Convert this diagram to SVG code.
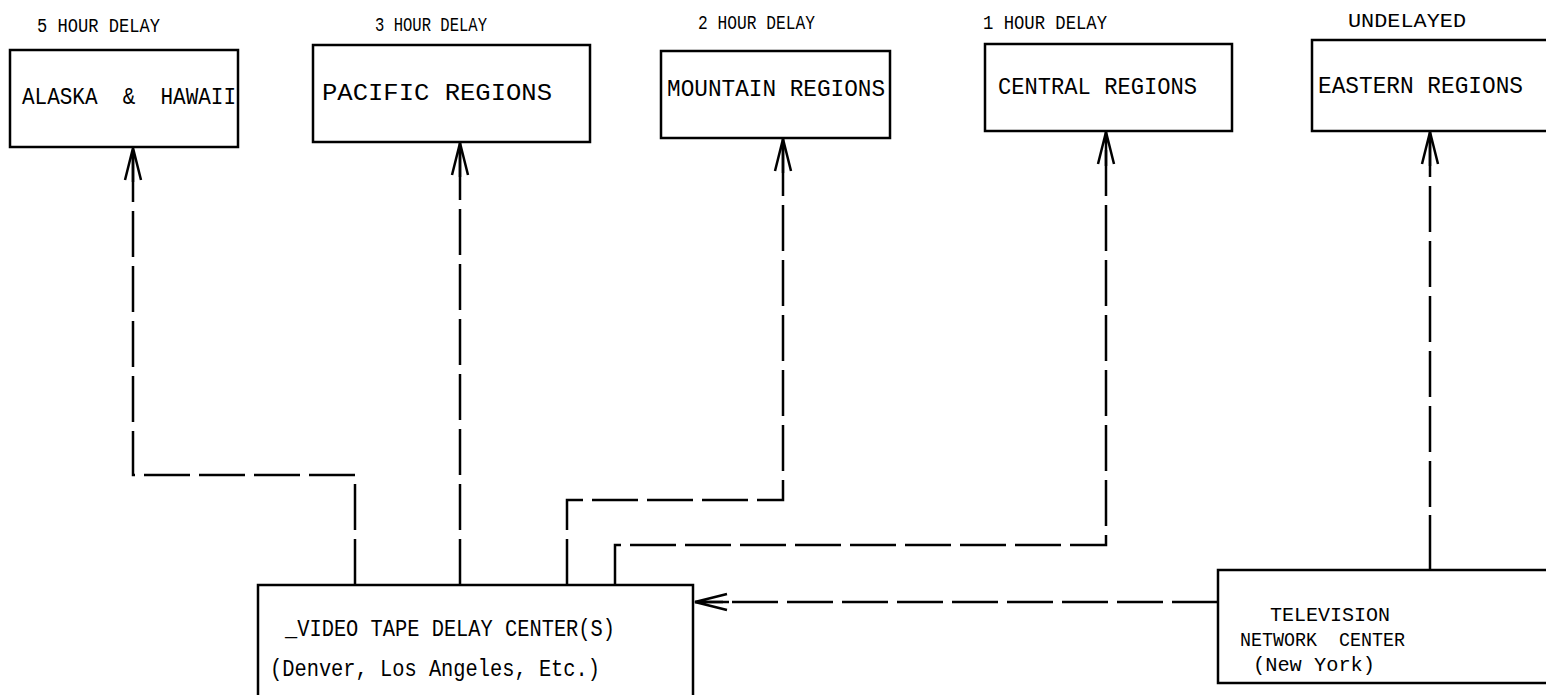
<svg xmlns="http://www.w3.org/2000/svg" width="1546" height="695" viewBox="0 0 1546 695">
<style>
.box{fill:none;stroke:#000;stroke-width:2.5}
text{white-space:pre}
.t{font-family:"Liberation Mono","DejaVu Sans Mono",monospace;font-size:24px;fill:#000}
.tv{font-family:"Liberation Mono","DejaVu Sans Mono",monospace;font-size:20px;fill:#000}
.lbl{font-family:"Liberation Mono","DejaVu Sans Mono",monospace;font-size:21px;fill:#000}
.c{fill:none;stroke:#000;stroke-width:2.5;stroke-dasharray:46 9}
.s{fill:none;stroke:#000;stroke-width:2.5}
</style>
<defs>
<marker id="ah" viewBox="-34 -12 36 24" refX="0" refY="0" markerWidth="36" markerHeight="24" markerUnits="userSpaceOnUse" orient="auto">
<path d="M-32 -8 L0 0 L-32 8 M-34 0 L0 0" fill="none" stroke="#000" stroke-width="2.5"/>
</marker>
</defs>
<rect width="1546" height="695" fill="#fff"/>
<g id="alaska">
<text class="lbl" x="37" y="32" textLength="123" lengthAdjust="spacingAndGlyphs">5 HOUR DELAY</text>
<rect class="box" x="10" y="50" width="228" height="97"/>
<text class="t" x="22" y="104" textLength="214" lengthAdjust="spacingAndGlyphs" xml:space="preserve">ALASKA  &amp;  HAWAII</text>
</g>
<g id="pacific">
<text class="lbl" x="375" y="31" textLength="112" lengthAdjust="spacingAndGlyphs">3 HOUR DELAY</text>
<rect class="box" x="313" y="45" width="277" height="97"/>
<text class="t" x="322" y="100" textLength="230" lengthAdjust="spacingAndGlyphs">PACIFIC REGIONS</text>
</g>
<g id="mountain">
<text class="lbl" x="698" y="29" textLength="117" lengthAdjust="spacingAndGlyphs">2 HOUR DELAY</text>
<rect class="box" x="661" y="51" width="229" height="87"/>
<text class="t" x="667" y="96" textLength="218" lengthAdjust="spacingAndGlyphs">MOUNTAIN REGIONS</text>
</g>
<g id="central">
<text class="lbl" x="983" y="29" textLength="124" lengthAdjust="spacingAndGlyphs">1 HOUR DELAY</text>
<rect class="box" x="985" y="44" width="247" height="87"/>
<text class="t" x="998" y="94" textLength="199" lengthAdjust="spacingAndGlyphs">CENTRAL REGIONS</text>
</g>
<g id="eastern">
<text class="lbl" x="1348" y="27" textLength="118" lengthAdjust="spacingAndGlyphs">UNDELAYED</text>
<rect class="box" x="1312" y="40" width="250" height="91"/>
<text class="t" x="1318" y="93" textLength="205" lengthAdjust="spacingAndGlyphs">EASTERN REGIONS</text>
</g>
<g id="videotape">
<rect class="box" x="258" y="585" width="435" height="120"/>
<text class="t" x="285" y="636" textLength="330" lengthAdjust="spacingAndGlyphs">_VIDEO TAPE DELAY CENTER(S)</text>
<text class="t" x="270" y="676" textLength="330" lengthAdjust="spacingAndGlyphs">(Denver, Los Angeles, Etc.)</text>
</g>
<g id="network">
<rect class="box" x="1218" y="570" width="340" height="113"/>
<text class="tv" x="1270" y="621" textLength="120" lengthAdjust="spacingAndGlyphs">TELEVISION</text>
<text class="tv" x="1240" y="646" textLength="165" lengthAdjust="spacingAndGlyphs" xml:space="preserve">NETWORK  CENTER</text>
<text class="tv" x="1253" y="671" textLength="122" lengthAdjust="spacingAndGlyphs">(New York)</text>
</g>
<g id="connectors">
<path class="c" d="M355 585 V475 H133 V148" marker-end="url(#ah)"/>
<path class="c" d="M460 585 V143" marker-end="url(#ah)"/>
<path class="c" d="M567 585 V500 H783 V139" marker-end="url(#ah)"/>
<path class="c" d="M615 585 V545 H1106 V132" marker-end="url(#ah)"/>
<path class="s" d="M1430 570 V515"/>
<path class="c" d="M1430 507 V132" marker-end="url(#ah)"/>
<path class="c" d="M1218 602 H695" marker-end="url(#ah)"/>
</g>
</svg>
